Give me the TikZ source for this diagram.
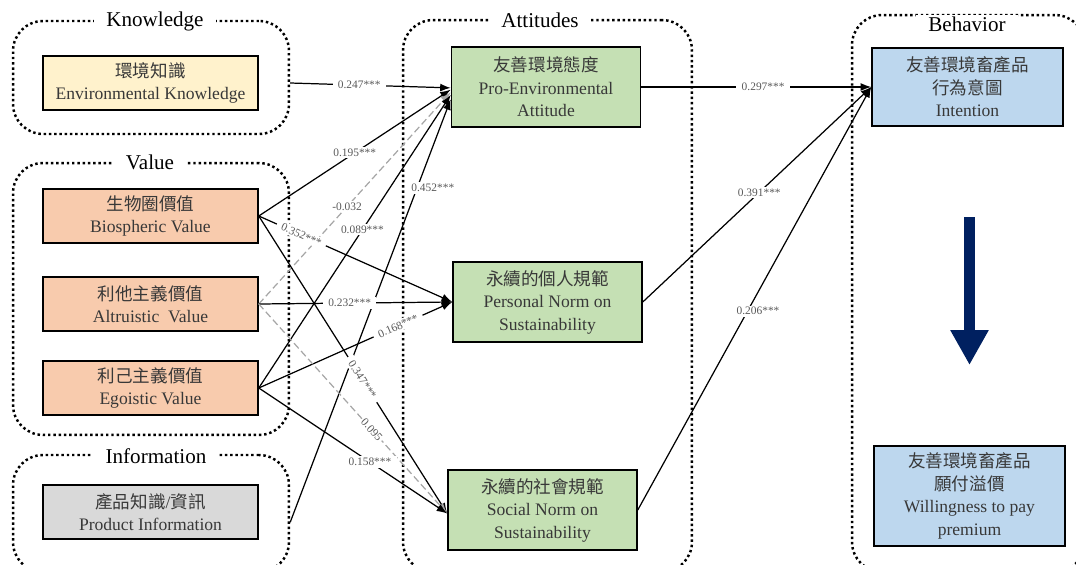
\documentclass[tikz,border=0pt]{standalone}
\usepackage{fontspec}
\setmainfont{Liberation Serif}
\newfontfamily\cjk{Noto Sans CJK TC}
\usetikzlibrary{arrows.meta,positioning}

\definecolor{knowfill}{HTML}{FFF2CC}
\definecolor{valfill}{HTML}{F8CBAD}
\definecolor{infofill}{HTML}{D9D9D9}
\definecolor{attfill}{HTML}{C5E0B4}
\definecolor{behfill}{HTML}{BDD7EE}
\definecolor{navy}{HTML}{002060}
\definecolor{lblgray}{HTML}{595959}
\definecolor{dashgray}{HTML}{A6A6A6}

\tikzset{
  grp/.style={draw, line width=1.4pt, dash pattern=on 1.4pt off 1.6pt, rounded corners=0.6cm},
  grptitle/.style={fill=white, font=\fontsize{12}{14}\selectfont, inner xsep=7pt, inner ysep=1pt},
  cbox/.style={draw, line width=0.9pt, align=center, text=black!78, font=\fontsize{10}{12.8}\selectfont, inner sep=1pt},
  leftbox/.style={cbox, minimum width=4.3cm, minimum height=1.08cm},
  attbox/.style={cbox, fill=attfill, minimum width=3.78cm, minimum height=1.6cm},
  behbox/.style={cbox, fill=behfill, minimum width=3.82cm},
  link/.style={line width=0.7pt, -{Latex[length=6pt,width=4.5pt]}},
  nslink/.style={link, dashgray, dash pattern=on 4pt off 2pt},
  lbl/.style={fill=white, text=lblgray, font=\fontsize{6.5}{7}\selectfont, inner xsep=3pt, inner ysep=1pt},
  bigarrow/.style={navy, line width=0.22cm, -{Triangle[length=0.7cm,width=0.72cm]}}
}

\begin{document}
\begin{tikzpicture}[x=0.02cm, y=-0.02cm]
  \useasboundingbox (0,0) rectangle (1076,565);
  \clip (0,0) rectangle (1076,565);

  % groups
  \node[grp, minimum width=5.52cm, minimum height=2.26cm] (knowgrp) at (151,77.5) {};
  \node[grp, minimum width=5.52cm, minimum height=5.44cm] (valgrp) at (151,299) {};
  \node[grp, minimum width=5.52cm, minimum height=2.34cm] (infogrp) at (151,513.5) {};
  \node[grp, minimum width=5.78cm, minimum height=11.04cm] (attgrp) at (547.5,296) {};
  \node[grp, minimum width=4.66cm, minimum height=11.14cm] (behgrp) at (968.5,293.5) {};

  \node[grptitle] (knowtitle) at (155,21) {Knowledge};
  \node[grptitle] (valtitle) at (150,162) {Value};
  \node[grptitle] (infotitle) at (156,456) {Information};
  \node[grptitle] (atttitle) at (540,20) {Attitudes};
  \node[grptitle] (behtitle) at (967,24) {Behavior};

  % left side
  \node[leftbox, fill=knowfill] (envk) at (150.5,83) {{\cjk 環境知識}\\Environmental Knowledge};
  \node[leftbox, fill=valfill] (bio) at (150.5,216) {{\cjk 生物圈價值}\\Biospheric Value};
  \node[leftbox, fill=valfill] (alt) at (150.5,304) {{\cjk 利他主義價值}\\Altruistic\ \ Value};
  \node[leftbox, fill=valfill] (ego) at (150.5,388) {{\cjk 利己主義價值}\\Egoistic Value};
  \node[leftbox, fill=infofill] (prod) at (150.5,512) {{\cjk 產品知識}/{\cjk 資訊}\\Product Information};

  % attitudes
  \node[attbox] (pea) at (546,87) {{\cjk 友善環境態度}\\Pro-Environmental\\Attitude};
  \node[attbox] (pn) at (547.5,302) {{\cjk 永續的個人規範}\\Personal Norm on\\Sustainability};
  \node[attbox] (sn) at (542.5,510) {{\cjk 永續的社會規範}\\Social Norm on\\Sustainability};

  % behavior
  \node[behbox, minimum height=1.56cm] (int) at (967.5,87) {{\cjk 友善環境畜產品}\\{\cjk 行為意圖}\\Intention};
  \node[behbox, minimum height=2cm] (wtp) at (969.5,496) {{\cjk 友善環境畜產品}\\{\cjk 願付溢價}\\Willingness to pay\\premium};

  \coordinate (arrtop) at (969.5,217);
  \coordinate (arrbot) at (969.5,365);
  \draw[bigarrow] (arrtop) -- (arrbot);

  % paths into attitudes
  \draw[link] (knowgrp.east |- envk.east) -- node[lbl, pos=0.43] {0.247***} ([yshift=-0.5pt]pea.west);
  \draw[link] (bio.east) -- node[lbl, pos=0.5] {0.195***} ([yshift=-1.5pt]pea.west);
  \draw[nslink] (alt.east) -- node[lbl, pos=0.46] {-0.032} ([yshift=-3pt]pea.west);
  \draw[link] (ego.east) -- node[lbl, pos=0.54] {0.089***} ([yshift=-4.5pt]pea.west);
  \draw[link] ([yshift=-5pt]infogrp.east) -- node[lbl, pos=0.79, xshift=9pt] {0.452***} ([yshift=-7pt]pea.west);

  \draw[link] (bio.east) -- node[lbl, pos=0.22, sloped] {0.352***} (pn.west);
  \draw[link] (alt.east) -- node[lbl, pos=0.47] {0.232***} (pn.west);
  \draw[link] (ego.east) -- node[lbl, pos=0.72, sloped] {0.168***} (pn.west);

  \draw[link] (bio.east) -- node[lbl, pos=0.55, sloped] {0.347***} ([yshift=-2pt]sn.west);
  \draw[nslink] (alt.east) -- node[lbl, pos=0.6, sloped, inner xsep=1pt] {0.095} ([yshift=-2pt]sn.west);
  \draw[link] (ego.east) -- node[lbl, pos=0.59] {0.158***} ([yshift=-2pt]sn.west);

  % paths into behavior
  \draw[link] (pea.east) -- node[lbl, pos=0.53] {0.297***} (int.west);
  \draw[link] (pn.east) -- node[lbl, pos=0.51] {0.391***} (int.west);
  \draw[link] (sn.east) -- node[lbl, pos=0.47, xshift=6pt] {0.206***} (int.west);
\end{tikzpicture}
\end{document}
